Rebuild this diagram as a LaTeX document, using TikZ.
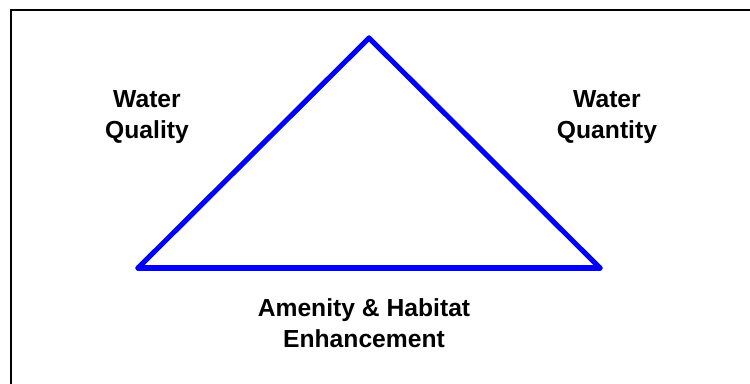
\documentclass[tikz,border=0pt]{standalone}
\usepackage{fontspec}
\setmainfont{Liberation Sans}
\usepackage{xcolor}

\begin{document}
\begin{tikzpicture}[x=0.75pt, y=-0.75pt,
		every node/.style={font=\fontsize{18.5}{23}\selectfont\bfseries, align=center},
		side/.style={draw=triblue, line width=3.8pt, line join=round, line cap=round}]
		% Define colors
		\definecolor{triblue}{RGB}{0, 0, 255}
		
		% ===== CANVAS =====
		\useasboundingbox (0, 0) rectangle (750, 383);
		\draw[black, line width=1.6pt] (11, 400) -- (11, 10) -- (760, 10);
		
		% ===== TRIANGLE CORNERS =====
		\coordinate (apex) at (369, 38);
		\coordinate (left) at (138, 268);
		\coordinate (right) at (600, 268);
		
		% Sides
		\draw[side] (left) -- (apex);
		\draw[side] (apex) -- (right);
		\draw[side] (left) -- (right);
		
		% ===== LABELS =====
		\node (quality) at (147, 117) {Water\\Quality};
		\node (quantity) at (607, 117) {Water\\Quantity};
		\node (amenity) at (364, 323) {Amenity \& Habitat\\Enhancement};
		
	\end{tikzpicture}
\end{document}
